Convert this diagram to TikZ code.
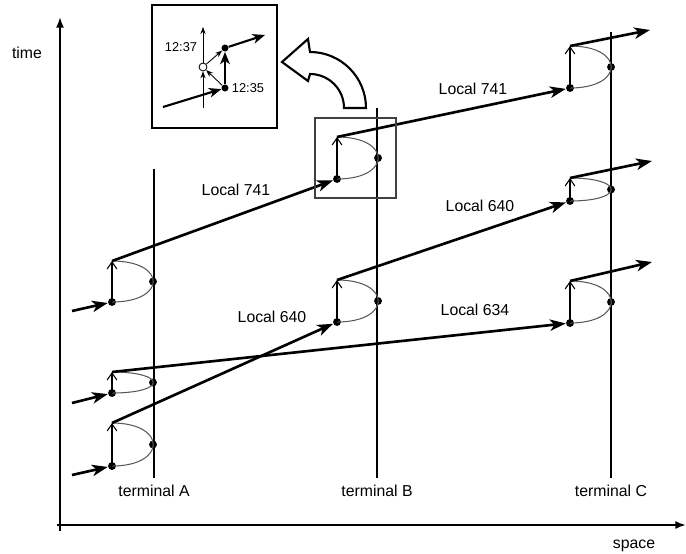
\documentclass[tikz,border=0pt]{standalone}
\usepackage{fontspec}
\setmainfont{Liberation Sans}
\usetikzlibrary{arrows.meta}

\begin{document}
\begin{tikzpicture}[x=0.02cm, y=-0.02cm,
    train/.style={line width=1.5pt, -{Stealth[length=9pt, width=6.5pt, inset=2.5pt]}},
    ztrain/.style={line width=1.2pt, -{Stealth[length=7pt, width=5.5pt, inset=2pt]}},
    hold/.style={line width=1.3pt, -{Straight Barb[length=4pt, width=5.5pt, line width=0.6pt]}},
    hint/.style={line width=0.5pt, -{Stealth[length=4pt, width=3pt]}},
    turn/.style={black!65, line width=0.6pt},
    track/.style={line width=0.6pt},
    axis/.style={line width=1.1pt, -{Latex[length=6pt, width=4.5pt]}},
    stop/.style={circle, fill=black, inner sep=0pt, minimum size=4.5pt},
    trainname/.style={font=\fontsize{9}{11}\selectfont},
    clock/.style={font=\fontsize{7.3}{9}\selectfont}]

    \useasboundingbox (0,0) rectangle (686,554);

    % Axes
    \coordinate (t-start) at (60,531);
    \coordinate (t-end) at (60,17);
    \coordinate (s-start) at (57,525);
    \coordinate (s-end) at (686,525);
    \draw[axis] (t-start) -- (t-end);
    \draw[axis] (s-start) -- (s-end);
    \node[trainname] (time) at (27,53) {time};
    \node[trainname] (space) at (634,546) {space};

    % Terminals
    \foreach \t/\x/\top in {A/154/169, B/377/108, C/611/32} {
        \coordinate (\t-top) at (\x,\top);
        \coordinate (\t-bot) at (\x,478);
        \draw[track] (\t-top) -- (\t-bot);
        \node[trainname] (\t-name) at (\x,491) {terminal \t};
    }

    % Stops: arrival, departure and turn-around
    \foreach \n/\x/\yb/\yt in {A1/112/302/261, A2/112/393/372, A3/112/466/423,
                               B1/337/179/137, B2/337/322/280,
                               C1/570/88/46, C2/570/201/178, C3/570/323/281} {
        \node[stop] (\n-arr) at (\x,\yb) {};
        \coordinate (\n-dep) at (\x,\yt);
        \node[stop] (\n-turn) at (\x+41,{(\yb+\yt)/2}) {};
        \draw[turn] (\n-arr.center) .. controls +(55,0) and +(55,0) .. (\n-dep);
        \draw[hold] (\n-arr.center) -- (\n-dep);
    }

    % Trains coming in and going out
    \coordinate (in1) at (72,311);
    \coordinate (in2) at (72,403);
    \coordinate (in3) at (72,475);
    \coordinate (out1) at (650,30);
    \coordinate (out2) at (652,161);
    \coordinate (out3) at (652,262);
    \draw[train] (in1) -- (A1-arr);
    \draw[train] (in2) -- (A2-arr);
    \draw[train] (in3) -- (A3-arr);
    \draw[train] (C1-dep) -- (out1);
    \draw[train] (C2-dep) -- (out2);
    \draw[train] (C3-dep) -- (out3);

    % Trips
    \draw[train] (A1-dep) -- (B1-arr);
    \draw[train] (B1-dep) -- (C1-arr);
    \draw[train] (A3-dep) -- (B2-arr);
    \draw[train] (B2-dep) -- (C2-arr);
    \draw[train] (A2-dep) -- (C3-arr);
    \node[trainname] (l741-ab) at (236,190) {Local 741};
    \node[trainname] (l741-bc) at (473,89) {Local 741};
    \node[trainname] (l640-ab) at (272,317) {Local 640};
    \node[trainname] (l640-bc) at (480,206) {Local 640};
    \node[trainname] (l634) at (475,310) {Local 634};

    % Zoom frame and curved pointer
    \draw[black!75, line width=0.6pt] (315,118) rectangle (396,198);
    \draw[line width=1.2pt, fill=white, line join=miter]
        (282,62) -- (308,39) -- (310,52) arc[start angle=90, end angle=0, radius=1.12cm]
        -- (344,108) arc[start angle=0, end angle=90, radius=0.68cm] -- (308,81) -- cycle;

    % Inset
    \draw[line width=1.7pt] (152,5) rectangle (277,128);
    \node[stop, minimum size=4pt] (z-arr) at (225,88) {};
    \node[stop, minimum size=4pt] (z-dep) at (225,48) {};
    \node[circle, draw, fill=white, inner sep=0pt, minimum size=4.5pt, line width=0.5pt] (z-wait) at (203,67) {};
    \coordinate (z-foot) at (203,108);
    \coordinate (z-head) at (203,27);
    \coordinate (z-in) at (163,107);
    \coordinate (z-out) at (265,35);
    \draw[hint] (z-foot) -- (z-wait);
    \draw[hint] (z-wait) -- (z-head);
    \draw[hint] (z-arr) -- (z-wait);
    \draw[hint] (z-wait) -- (z-dep);
    \draw[ztrain] (z-in) -- (z-arr);
    \draw[ztrain] (z-arr) -- (z-dep);
    \draw[ztrain] (z-dep) -- (z-out);
    \node[clock] (t1237) at (181,47) {12:37};
    \node[clock] (t1235) at (248,88) {12:35};

\end{tikzpicture}
\end{document}
